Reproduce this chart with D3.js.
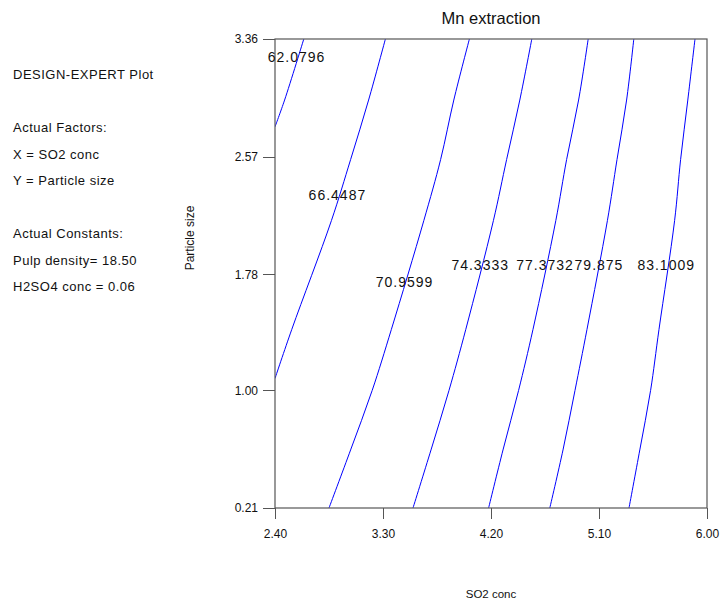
<!DOCTYPE html>
<html>
<head>
	<meta charset="utf-8">
	<title>Mn extraction</title>
	<script src="https://d3js.org/d3.v7.min.js"></script>
	<style>
		body { margin:0; background:#fff; font-family: Arial, "Liberation Sans", sans-serif; }
		.axis path { display:none; }
		.axis line { stroke:#555; shape-rendering: crispEdges; }
		.axis text { font-size:12px; fill:#111; font-family: Arial, "Liberation Sans", sans-serif; }
		.note { font-size:13px; fill:#111; letter-spacing:0.5px; }
		.clabel { font-size:14px; fill:#111; letter-spacing:1px; }
	</style>
</head>
<body>
	<svg id="chart"></svg>
	<script>
	// tick values
	var xTicks = [2.40, 3.30, 4.20, 5.10, 6.00];
	var yTicks = [0.21, 1.00, 1.78, 2.57, 3.36];

	// contour levels and their traced points [SO2 conc, particle size]
	var levels = ["62.0796", "66.4487", "70.9599", "74.3333", "77.3732", "79.875", "83.1009"];
	var c62 = [[2.64, 3.36], [2.48, 2.95], [2.40, 2.77]];
	var c66 = [[3.32, 3.36], [3.18, 2.95], [3.03, 2.55], [2.87, 2.14], [2.54, 1.41], [2.40, 1.08]];
	var c71 = [[4.02, 3.36], [3.89, 2.95], [3.78, 2.55], [3.64, 2.14], [3.37, 1.41], [3.21, 1.00], [3.03, 0.60], [2.85, 0.21]];
	var c74 = [[4.54, 3.36], [4.44, 2.95], [4.33, 2.55], [4.22, 2.14], [3.99, 1.41], [3.85, 1.00], [3.70, 0.60], [3.55, 0.21]];
	var c77 = [[5.01, 3.36], [4.93, 2.95], [4.83, 2.55], [4.74, 2.14], [4.55, 1.41], [4.43, 1.00], [4.30, 0.60], [4.18, 0.21]];
	var c80 = [[5.39, 3.36], [5.33, 2.95], [5.25, 2.55], [5.17, 2.14], [5.00, 1.41], [4.90, 1.00], [4.80, 0.60], [4.69, 0.21]];
	var c83 = [[5.90, 3.36], [5.84, 2.95], [5.78, 2.55], [5.73, 2.14], [5.60, 1.41], [5.53, 1.00], [5.44, 0.60], [5.35, 0.21]];
	var contours = [c62, c66, c71, c74, c77, c80, c83];

	// where each level's label sits, in data units
	var labelX = [2.58, 2.92, 3.48, 4.11, 4.65, 5.10, 5.66];
	var labelY = [3.24, 2.31, 1.73, 1.84, 1.84, 1.84, 1.84];

	var notes = ["DESIGN-EXPERT Plot", "", "Actual Factors:", "X = SO2 conc", "Y = Particle size", "",
		"Actual Constants:", "Pulp density= 18.50", "H2SO4 conc = 0.06"];

	var W = 720, H = 604;
	var margin = {top:39, right:13, bottom:96, left:275};
	var width = W - margin.left - margin.right,
		height = H - margin.top - margin.bottom;

	var x = d3.scaleLinear().domain([2.40, 6.00]).range([0, width]);
	var y = d3.scaleLinear().domain([0.21, 3.36]).range([height, 0]);

	var svg = d3.select("#chart").attr("width", W).attr("height", H);
	var g = svg.append("g").attr("transform", "translate(" + margin.left + "," + margin.top + ")");

	g.append("clipPath").attr("id", "clip")
		.append("rect").attr("width", width).attr("height", height);

	// contours
	var line = d3.line()
		.x(function(d) { return x(d[0]); })
		.y(function(d) { return y(d[1]); })
		.curve(d3.curveCatmullRom);

	g.append("g").attr("clip-path", "url(#clip)")
		.selectAll("path").data(contours).enter().append("path")
		.attr("d", line)
		.attr("fill", "none")
		.attr("stroke", "#0000ff")
		.attr("stroke-width", 1);

	// frame
	g.append("rect")
		.attr("width", width).attr("height", height)
		.attr("fill", "none").attr("stroke", "#555").attr("stroke-width", 1.2);

	// axes
	g.append("g").attr("class", "axis")
		.call(d3.axisLeft(y).tickValues(yTicks).tickSize(12).tickPadding(5).tickFormat(d3.format(".2f")));

	g.append("g").attr("class", "axis")
		.attr("transform", "translate(0," + height + ")")
		.call(d3.axisBottom(x).tickValues(xTicks).tickSize(11).tickPadding(10).tickFormat(d3.format(".2f")));

	// contour labels
	g.selectAll(".clabel").data(levels).enter().append("text")
		.attr("class", "clabel")
		.attr("x", function(d, i) { return x(labelX[i]); })
		.attr("y", function(d, i) { return y(labelY[i]); })
		.attr("dy", "0.35em")
		.attr("text-anchor", "middle")
		.text(function(d) { return d; });

	// titles
	svg.append("text")
		.attr("x", margin.left + width / 2).attr("y", 24)
		.attr("text-anchor", "middle")
		.style("font-size", "16.5px").style("fill", "#111")
		.text("Mn extraction");

	svg.append("text")
		.attr("x", margin.left + width / 2).attr("y", 598)
		.attr("text-anchor", "middle")
		.style("font-size", "11.5px").style("fill", "#111")
		.text("SO2 conc");

	svg.append("text")
		.attr("transform", "translate(194,238) rotate(-90)")
		.attr("text-anchor", "middle")
		.style("font-size", "12px").style("fill", "#111")
		.text("Particle size");

	// side notes
	svg.selectAll(".note").data(notes).enter().append("text")
		.attr("class", "note")
		.attr("x", 13)
		.attr("y", function(d, i) { return 79 + i * 26.5; })
		.text(function(d) { return d; });
	</script>
</body>
</html>
